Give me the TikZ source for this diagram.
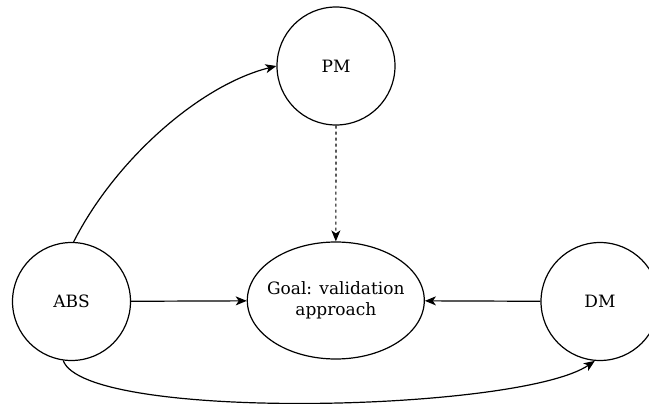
\documentclass[tikz,border=0pt]{standalone}
\usepackage{fontspec}
\setmainfont{DejaVu Serif}
\usetikzlibrary{arrows.meta,shapes.geometric}
\begin{document}
\begin{tikzpicture}[x=1pt,y=-1pt,
  every node/.style={font=\fontsize{17}{20.5}\selectfont, inner sep=0pt, align=center},
  actor/.style={draw, circle, minimum size=118pt, line width=1.2pt},
  goal/.style={draw, ellipse, minimum width=177pt, minimum height=117pt, line width=1.2pt},
  link/.style={-{Stealth[length=11pt,width=9pt,inset=3pt]}, line width=1.2pt}]
\useasboundingbox (0,0) rectangle (649,404);
\node[actor] (pm) at (336,66) {PM};
\node[actor] (abs) at (71.5,301.5) {ABS};
\node[actor] (dm) at (600,301.5) {DM};
% the ellipse is sized by hand; its two-line label sits on top of it
\node[goal] (goal) at (335.8,300.5) {};
\node (goaltext) at (goal.center) {Goal: validation\\approach};
\draw[link, dashed] (pm) -- (goal);
\draw[link] (abs) -- (goal);
\draw[link] (dm) -- (goal);
\draw[link] (abs.88) .. controls (115,160) and (200,85) .. (pm.west);
\draw[link] (abs.262) .. controls (85,422) and (520,412) .. (dm.265);
\end{tikzpicture}
\end{document}
